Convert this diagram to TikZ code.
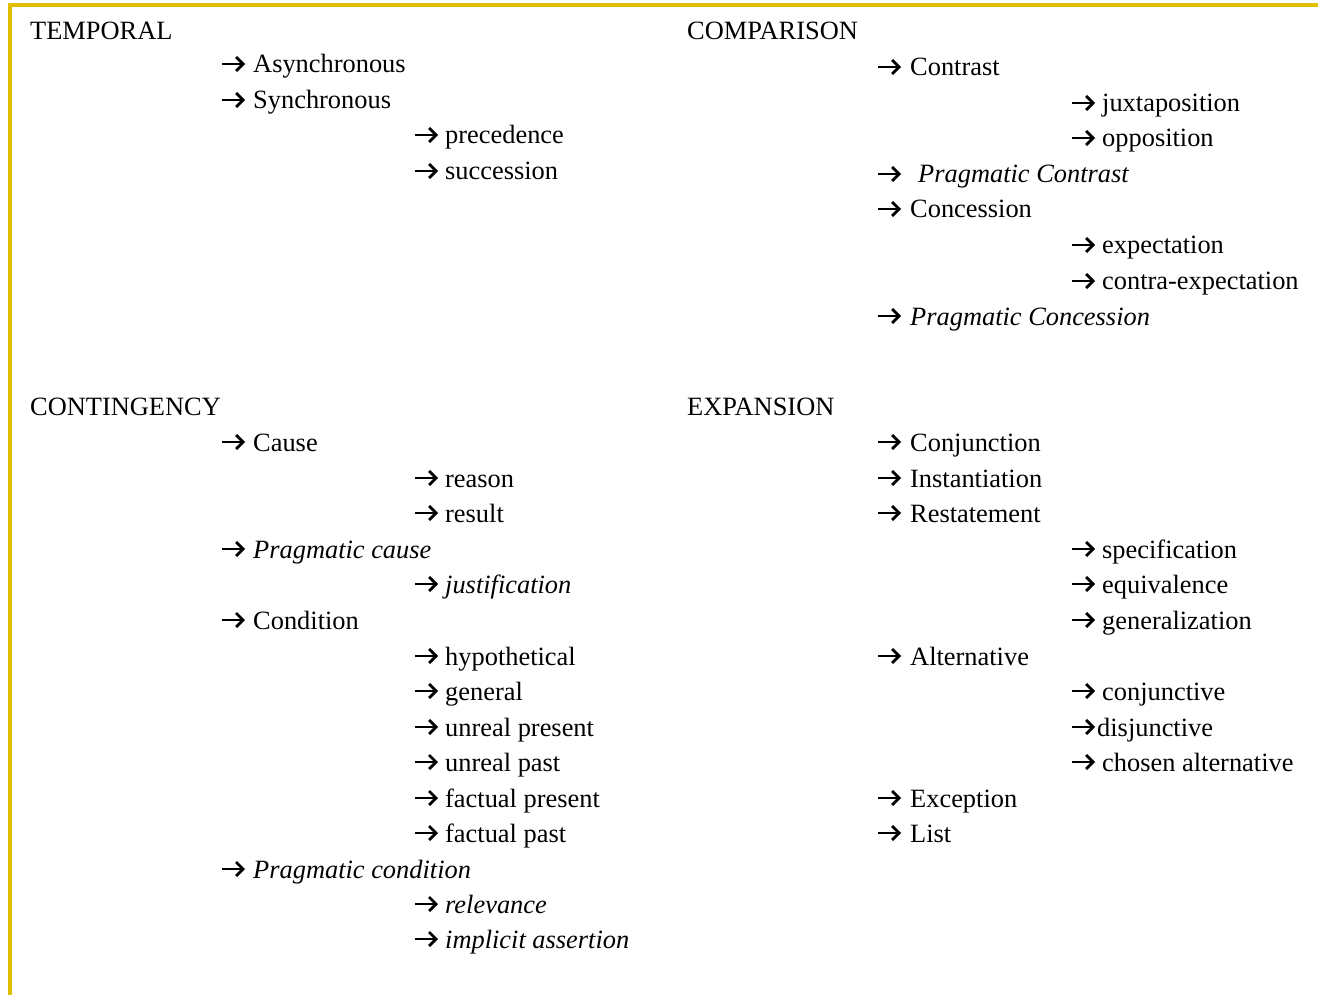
\documentclass[tikz,border=0pt]{standalone}
\usepackage{fontspec}
\setmainfont{Liberation Serif}
\usetikzlibrary{arrows.meta}
\definecolor{framegold}{RGB}{222,192,0}
\tikzset{
  lbl/.style={anchor=base west, inner sep=0pt, font=\fontsize{26.4}{30}\selectfont},
  cat/.style={lbl},
  plain/.style={lbl},
  prag/.style={lbl, font=\fontsize{26.4}{30}\selectfont\itshape},
  pointer/.style={line width=2.7pt,
    -{Straight Barb[length=7pt, width=14pt, line width=2.7pt]}},
  frameline/.style={draw=framegold, line width=3.5pt}
}
% #1 name, #2 arrow x, #3 text x, #4 baseline y, #5 style, #6 text
\newcommand\branch[6]{%
  \node[#5] (#1) at (#3,#4+1) {#6};
  \draw[pointer] (#2,#4-8) -- (#2+23,#4-8);
}
\begin{document}
\begin{tikzpicture}[x=1pt,y=-1pt]
\useasboundingbox (0,0) rectangle (1318,995);
\draw[frameline] (10,995) -- (10,5) -- (1318,5);

% TEMPORAL
\node[cat] (temporal) at (30,40) {TEMPORAL};
\branch{async}{222}{253}{72}{plain}{Asynchronous}
\branch{sync}{222}{253}{108}{plain}{Synchronous}
\branch{prec}{415}{445}{143}{plain}{precedence}
\branch{succ}{415}{445}{179}{plain}{succession}

% CONTINGENCY
\node[cat] (contingency) at (30,415) {CONTINGENCY};
\branch{cause}{222}{253}{450}{plain}{Cause}
\branch{reason}{415}{445}{486}{plain}{reason}
\branch{result}{415}{445}{521}{plain}{result}
\branch{pcause}{222}{253}{557}{prag}{Pragmatic cause}
\branch{justif}{415}{445}{592}{prag}{justification}
\branch{cond}{222}{253}{628}{plain}{Condition}
\branch{hypo}{415}{445}{664}{plain}{hypothetical}
\branch{general}{415}{445}{699}{plain}{general}
\branch{unpres}{415}{445}{735}{plain}{unreal present}
\branch{unpast}{415}{445}{770}{plain}{unreal past}
\branch{facpres}{415}{445}{806}{plain}{factual present}
\branch{facpast}{415}{445}{841}{plain}{factual past}
\branch{pcond}{222}{253}{877}{prag}{Pragmatic condition}
\branch{relev}{415}{445}{912}{prag}{relevance}
\branch{implic}{415}{445}{947}{prag}{implicit assertion}

% COMPARISON
\node[cat] (comparison) at (687,40) {COMPARISON};
\branch{contrast}{878}{910}{75}{plain}{Contrast}
\branch{juxta}{1072}{1102}{111}{plain}{juxtaposition}
\branch{oppos}{1072}{1102}{146}{plain}{opposition}
\branch{pcontrast}{878}{918}{182}{prag}{Pragmatic Contrast}
\branch{concess}{878}{910}{217}{plain}{Concession}
\branch{expect}{1072}{1102}{253}{plain}{expectation}
\branch{contra}{1072}{1102}{289}{plain}{contra-expectation}
\branch{pconcess}{878}{910}{324}{prag}{Pragmatic Concession}

% EXPANSION
\node[cat] (expansion) at (687,415) {EXPANSION};
\branch{conj}{878}{910}{450}{plain}{Conjunction}
\branch{inst}{878}{910}{486}{plain}{Instantiation}
\branch{restate}{878}{910}{521}{plain}{Restatement}
\branch{spec}{1072}{1102}{557}{plain}{specification}
\branch{equiv}{1072}{1102}{592}{plain}{equivalence}
\branch{gener}{1072}{1102}{628}{plain}{generalization}
\branch{alt}{878}{910}{664}{plain}{Alternative}
\branch{conjv}{1072}{1102}{699}{plain}{conjunctive}
\branch{disj}{1072}{1097}{735}{plain}{disjunctive}
\branch{chosen}{1072}{1102}{770}{plain}{chosen alternative}
\branch{except}{878}{910}{806}{plain}{Exception}
\branch{list}{878}{910}{841}{plain}{List}
\end{tikzpicture}
\end{document}
